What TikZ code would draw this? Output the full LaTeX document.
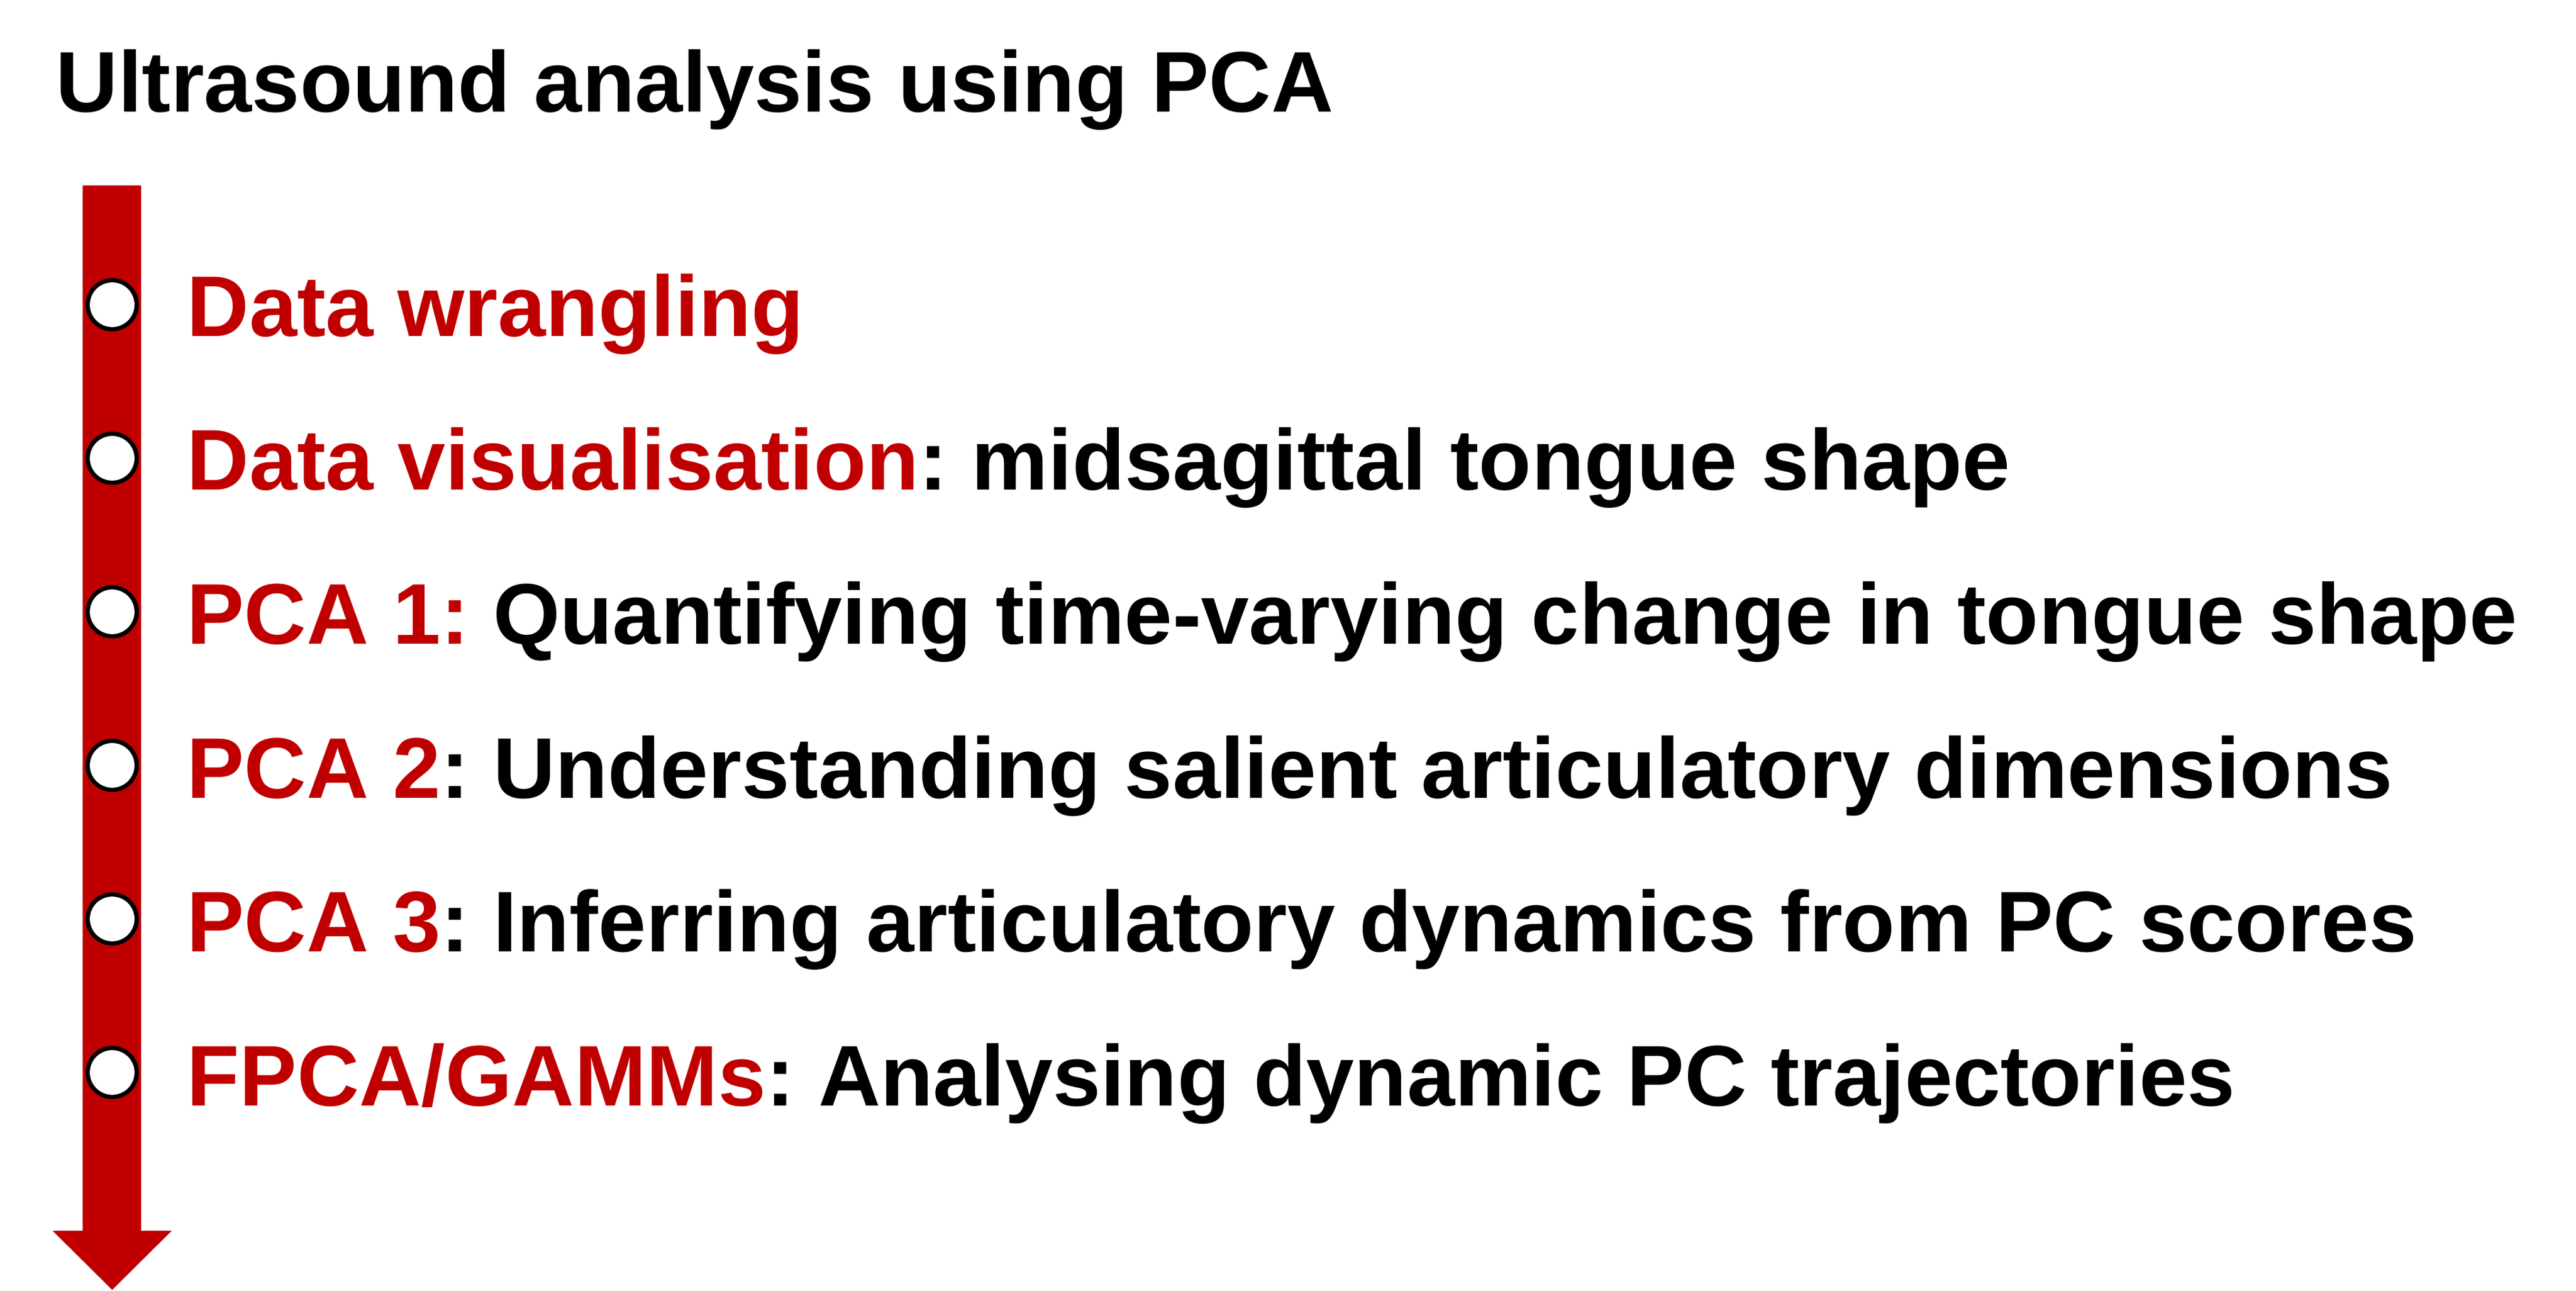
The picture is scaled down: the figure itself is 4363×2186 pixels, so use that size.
\documentclass[tikz,border=0pt]{standalone}
\usepackage{fontspec}
\setmainfont{Liberation Sans}
\frenchspacing
\definecolor{r192g0b0}{rgb}{0.752941,0.000000,0.000000}%
\tikzset{
  stepdot/.style={circle, draw=black, fill=white, line width=0.72mm, minimum size=8.3mm, inner sep=0pt},
  steptext/.style={anchor=base west, inner sep=0pt, font=\fontsize{41.5pt}{50pt}\selectfont\bfseries},
}
\begin{document}
\begin{tikzpicture}[x=0.1mm, y=0.1mm]
  \useasboundingbox (0,0) rectangle (4363,2186);

  % Marking title
  \node [steptext] (title) at (94,1996) {Ultrasound analysis using PCA};%

  % Drawing arrow down
  \fill [r192g0b0] (140,1872) -- (239,1872) -- (239,102) -- (291,102) -- (190,2) -- (89,102) -- (140,102) -- cycle;%

  % Marking steps by circle
  \node [stepdot] (c1) at (190,1670) {};%
  \node [stepdot] (c2) at (190,1410) {};%
  \node [stepdot] (c3) at (190,1150) {};%
  \node [stepdot] (c4) at (190,890) {};%
  \node [stepdot] (c5) at (190,630) {};%
  \node [stepdot] (c6) at (190,370) {};%

  % Marking step texts
  \node [steptext] (t1) at (316,1616) {\textcolor{r192g0b0}{Data wrangling}};%
  \node [steptext] (t2) at (316,1356) {\textcolor{r192g0b0}{Data visualisation}: midsagittal tongue shape};%
  \node [steptext] (t3) at (316,1095) {\textcolor{r192g0b0}{PCA 1:} Quantifying time-varying change in tongue shape};%
  \node [steptext] (t4) at (316,834) {\textcolor{r192g0b0}{PCA 2}: Understanding salient articulatory dimensions};%
  \node [steptext] (t5) at (316,574) {\textcolor{r192g0b0}{PCA 3}: Inferring articulatory dynamics from PC scores};%
  \node [steptext] (t6) at (316,313) {\textcolor{r192g0b0}{FPCA/GAMMs}: Analysing dynamic PC trajectories};%
\end{tikzpicture}
\end{document}
